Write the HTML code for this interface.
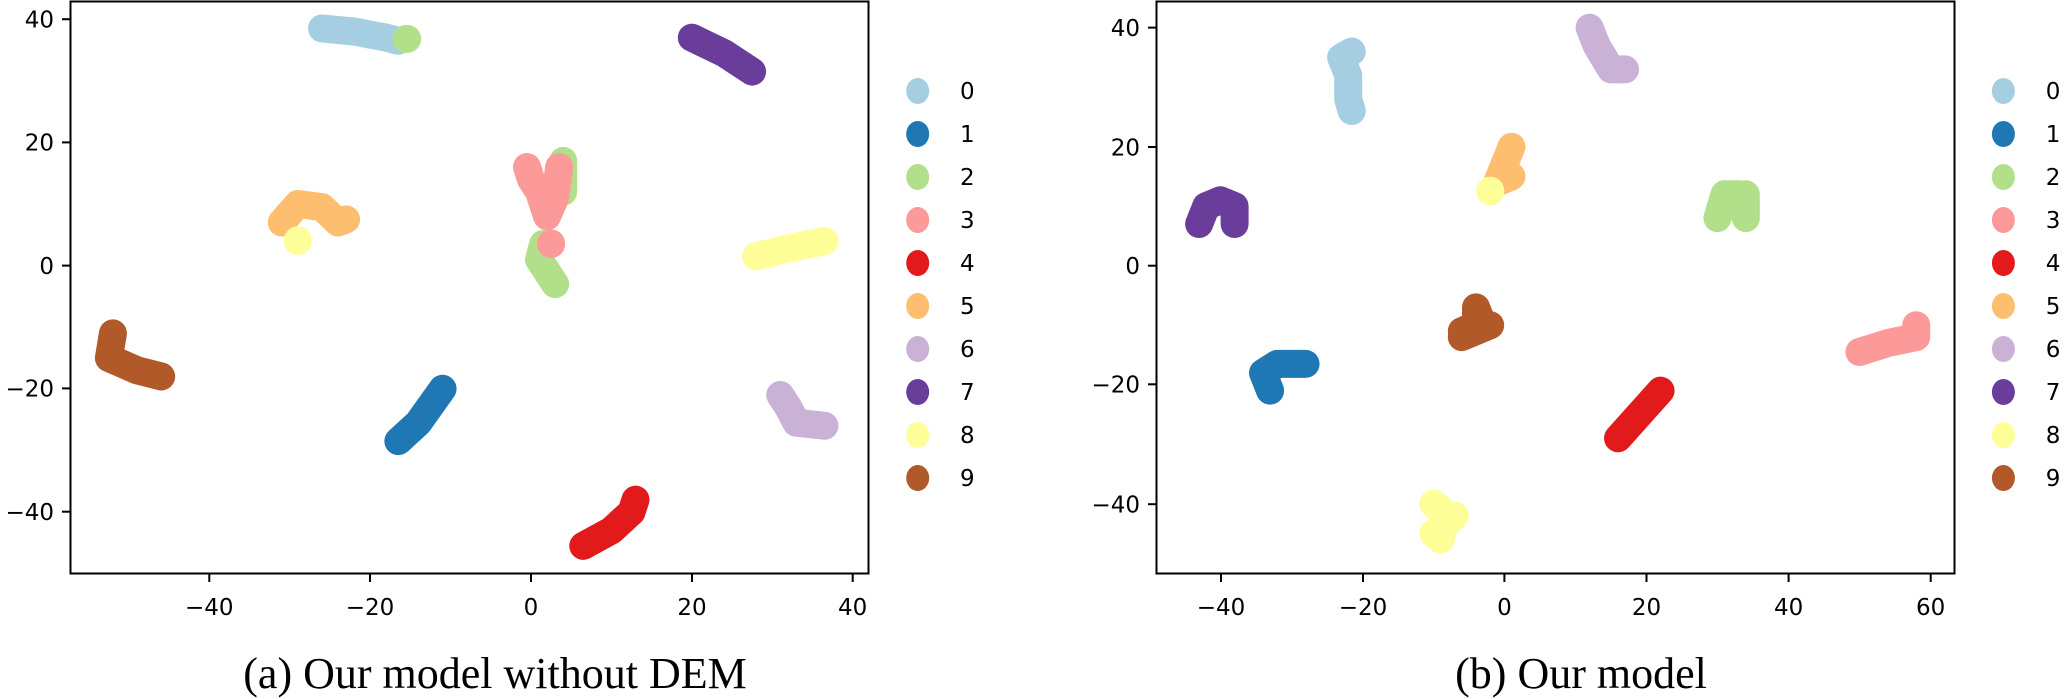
<!DOCTYPE html>
<html><head><meta charset="utf-8"><style>
html,body{margin:0;padding:0;background:#fff;}
svg{display:block;}
.t{font-family:"DejaVu Sans",sans-serif;font-size:23px;fill:#000;}
.c{font-family:"Liberation Serif",serif;font-size:44px;fill:#000;}
</style></head><body>
<svg width="2066" height="699" viewBox="0 0 2066 699" xmlns="http://www.w3.org/2000/svg">
<g fill="none" stroke-linecap="round" stroke-linejoin="round" stroke-width="28">
<g transform="translate(531,265.6) scale(8.04,-6.16)">
<polyline vector-effect="non-scaling-stroke" stroke="#a6cee3" points="-26,38.5 -22,38 -18,37 -16.5,36.5"/>
<polyline vector-effect="non-scaling-stroke" stroke="#b2df8a" points="-15.5,36.8 -15.4,36.8"/>
<polyline vector-effect="non-scaling-stroke" stroke="#6a3d9a" points="20,37 24,34.5 27.5,31.5"/>
<polyline vector-effect="non-scaling-stroke" stroke="#b2df8a" points="4,17 4,12"/>
<polyline vector-effect="non-scaling-stroke" stroke="#b2df8a" points="1.5,3.5 1,1 2,-1 3,-3"/>
<polyline vector-effect="non-scaling-stroke" stroke="#fb9a99" points="-0.5,16 0,14 1,12 2,8 3,11 3.5,16"/>
<polyline vector-effect="non-scaling-stroke" stroke="#fb9a99" points="2.5,3.5 2.5,3.6"/>
<polyline vector-effect="non-scaling-stroke" stroke="#fdbf6f" points="-31,7 -29,10 -26,9.5 -24,7 -23,7.5"/>
<polyline vector-effect="non-scaling-stroke" stroke="#ffff99" points="-29,4 -29,4.1"/>
<polyline vector-effect="non-scaling-stroke" stroke="#ffff99" points="28,1.5 32,2.8 36.5,4"/>
<polyline vector-effect="non-scaling-stroke" stroke="#b15928" points="-52,-11 -52.5,-15 -49,-17 -46,-18"/>
<polyline vector-effect="non-scaling-stroke" stroke="#1f78b4" points="-16.5,-28.5 -14,-25.5 -11,-20"/>
<polyline vector-effect="non-scaling-stroke" stroke="#cab2d6" points="31,-21 32,-23 33,-25.5 36.5,-26"/>
<polyline vector-effect="non-scaling-stroke" stroke="#e31a1c" points="6.5,-45.5 10,-43 12.5,-40 13,-38"/>
</g>
<g transform="translate(1504.4,265.7) scale(7.1,-5.95)">
<polyline vector-effect="non-scaling-stroke" stroke="#a6cee3" points="-21.5,36 -23,35 -22,32 -22,28 -21.5,26"/>
<polyline vector-effect="non-scaling-stroke" stroke="#cab2d6" points="12,40 13,37 15,33 17,33"/>
<polyline vector-effect="non-scaling-stroke" stroke="#fdbf6f" points="1,20 0,17 -1,14 1,15"/>
<polyline vector-effect="non-scaling-stroke" stroke="#ffff99" points="-2,12.5 -2,12.6"/>
<polyline vector-effect="non-scaling-stroke" stroke="#6a3d9a" points="-43,7 -42,10 -40,11 -38,10 -38,7"/>
<polyline vector-effect="non-scaling-stroke" stroke="#b2df8a" points="30,8 31,12 33,12 34,8 34,12"/>
<polyline vector-effect="non-scaling-stroke" stroke="#b15928" points="-6,-11 -4,-10 -4,-7 -3,-10 -6,-12 -2,-10"/>
<polyline vector-effect="non-scaling-stroke" stroke="#fb9a99" points="50,-14.5 54,-13 58,-12 58,-10"/>
<polyline vector-effect="non-scaling-stroke" stroke="#1f78b4" points="-33,-21 -34,-18 -32,-16.5 -28,-16.5"/>
<polyline vector-effect="non-scaling-stroke" stroke="#e31a1c" points="16,-29 22,-21"/>
<polyline vector-effect="non-scaling-stroke" stroke="#ffff99" points="-10,-40 -8,-42 -9,-46 -10,-45 -7,-42"/>
</g>
</g>
<rect x="70.5" y="1.5" width="798" height="572" fill="none" stroke="#000" stroke-width="2"/>
<rect x="1156.5" y="1.5" width="798" height="572" fill="none" stroke="#000" stroke-width="2"/>
<g stroke="#000" stroke-width="2">
<line x1="209.3" y1="574" x2="209.3" y2="582"/><line x1="370" y1="574" x2="370" y2="582"/><line x1="531" y1="574" x2="531" y2="582"/><line x1="692" y1="574" x2="692" y2="582"/><line x1="852.7" y1="574" x2="852.7" y2="582"/>
<line x1="62" y1="19.2" x2="70" y2="19.2"/><line x1="62" y1="142.4" x2="70" y2="142.4"/><line x1="62" y1="265.6" x2="70" y2="265.6"/><line x1="62" y1="388.4" x2="70" y2="388.4"/><line x1="62" y1="511.7" x2="70" y2="511.7"/>
<line x1="1221" y1="574" x2="1221" y2="582"/><line x1="1363" y1="574" x2="1363" y2="582"/><line x1="1504.4" y1="574" x2="1504.4" y2="582"/><line x1="1646.5" y1="574" x2="1646.5" y2="582"/><line x1="1788.6" y1="574" x2="1788.6" y2="582"/><line x1="1930.7" y1="574" x2="1930.7" y2="582"/>
<line x1="1148" y1="27.6" x2="1156" y2="27.6"/><line x1="1148" y1="147" x2="1156" y2="147"/><line x1="1148" y1="265.7" x2="1156" y2="265.7"/><line x1="1148" y1="384.3" x2="1156" y2="384.3"/><line x1="1148" y1="504.2" x2="1156" y2="504.2"/>
</g>
<g class="t" text-anchor="middle">
<text x="209.3" y="615">−40</text><text x="370" y="615">−20</text><text x="531" y="615">0</text><text x="692" y="615">20</text><text x="852.7" y="615">40</text>
<text x="1221" y="615">−40</text><text x="1363" y="615">−20</text><text x="1504.4" y="615">0</text><text x="1646.5" y="615">20</text><text x="1788.6" y="615">40</text><text x="1930.7" y="615">60</text>
</g>
<g class="t" text-anchor="end">
<text x="54" y="27.5">40</text><text x="54" y="150.7">20</text><text x="54" y="273.9">0</text><text x="54" y="396.7">−20</text><text x="54" y="520">−40</text>
<text x="1140" y="35.9">40</text><text x="1140" y="155.3">20</text><text x="1140" y="274">0</text><text x="1140" y="392.6">−20</text><text x="1140" y="512.5">−40</text>
</g>
<g id="leg">
<ellipse cx="917.7" cy="91" rx="11.5" ry="13" fill="#a6cee3"/>
<ellipse cx="917.7" cy="134" rx="11.5" ry="13" fill="#1f78b4"/>
<ellipse cx="917.7" cy="177" rx="11.5" ry="13" fill="#b2df8a"/>
<ellipse cx="917.7" cy="220" rx="11.5" ry="13" fill="#fb9a99"/>
<ellipse cx="917.7" cy="263" rx="11.5" ry="13" fill="#e31a1c"/>
<ellipse cx="917.7" cy="306" rx="11.5" ry="13" fill="#fdbf6f"/>
<ellipse cx="917.7" cy="349" rx="11.5" ry="13" fill="#cab2d6"/>
<ellipse cx="917.7" cy="392" rx="11.5" ry="13" fill="#6a3d9a"/>
<ellipse cx="917.7" cy="435" rx="11.5" ry="13" fill="#ffff99"/>
<ellipse cx="917.7" cy="478" rx="11.5" ry="13" fill="#b15928"/>
<g class="t">
<text x="960" y="99">0</text><text x="960" y="142">1</text><text x="960" y="185">2</text><text x="960" y="228">3</text><text x="960" y="271">4</text><text x="960" y="314">5</text><text x="960" y="357">6</text><text x="960" y="400">7</text><text x="960" y="443">8</text><text x="960" y="486">9</text>
</g>
</g>
<use href="#leg" x="1085.7" y="0"/>
<text class="c" x="495" y="688" text-anchor="middle">(a) Our model without DEM</text>
<text class="c" x="1581" y="688" text-anchor="middle">(b) Our model</text>
</svg>
</body></html>
